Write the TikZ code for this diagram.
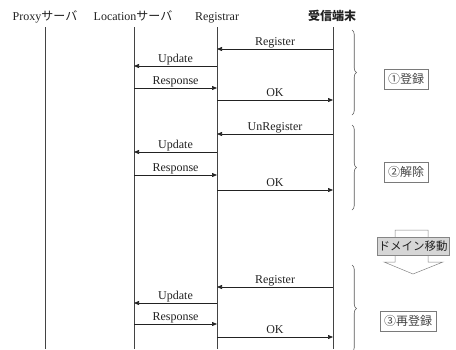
\documentclass[tikz,border=0pt]{standalone}
\usepackage{fontspec}
\setmainfont{Liberation Serif}
\newfontfamily\jp{Noto Sans CJK JP}
\usetikzlibrary{arrows.meta,decorations.pathreplacing}
\definecolor{ink}{HTML}{222222}
\definecolor{boxgray}{HTML}{D6D6D6}
\begin{document}
\begin{tikzpicture}[x=1pt,y=-1pt,
  hdr/.style={anchor=base,inner sep=0pt,text=ink,font=\fontsize{12}{14}\selectfont},
  life/.style={draw=ink!85,line width=0.8pt},
  msg/.style={draw=ink,line width=0.65pt,-{Triangle[length=5pt,width=4pt]}},
  lbl/.style={anchor=base,inner sep=0pt,yshift=3.5pt,text=ink,font=\fontsize{12}{14}\selectfont},
  brc/.style={draw=ink!75,line width=0.6pt,decorate,decoration={brace,amplitude=4.5pt}},
  tag/.style={draw=ink!60,line width=0.6pt,fill=white,text=ink!85,minimum height=20pt,inner xsep=4pt,font=\jp\fontsize{12}{13}\selectfont},
]
\useasboundingbox (0,0) rectangle (456,349);
% headers
\node[hdr] (hP) at (45,20) {Proxy{\jp サーバ}};
\node[hdr] (hL) at (133,20) {Location{\jp サーバ}};
\node[hdr] (hR) at (217,20) {Registrar};
\node[hdr] (hT) at (332,20) {\jp\bfseries 受信端末};
% lifelines
\coordinate (P) at (45,27);  \coordinate (Pb) at (45,349);
\coordinate (L) at (134,27); \coordinate (Lb) at (134,349);
\coordinate (R) at (217,27); \coordinate (Rb) at (217,349);
\coordinate (T) at (333,27); \coordinate (Tb) at (333,349);
\draw[life] (P) -- (Pb);
\draw[life] (L) -- (Lb);
\draw[life] (R) -- (Rb);
\draw[life] (T) -- (Tb);
% message rows
\foreach \n/\y in {1/49,2/66,3/88,4/100,5/134,6/152,7/175,8/190,9/287,10/303,11/324,12/337}
  \coordinate (y\n) at (0,\y);
% section 1
\draw[msg] (T |- y1) -- (R |- y1) node[midway,lbl] {Register};
\draw[msg] (R |- y2) -- (L |- y2) node[midway,lbl] {Update};
\draw[msg] (L |- y3) -- (R |- y3) node[midway,lbl] {Response};
\draw[msg] (R |- y4) -- (T |- y4) node[midway,lbl] {OK};
% section 2
\draw[msg] (T |- y5) -- (R |- y5) node[midway,lbl] {UnRegister};
\draw[msg] (R |- y6) -- (L |- y6) node[midway,lbl] {Update};
\draw[msg] (L |- y7) -- (R |- y7) node[midway,lbl] {Response};
\draw[msg] (R |- y8) -- (T |- y8) node[midway,lbl] {OK};
% section 3
\draw[msg] (T |- y9) -- (R |- y9) node[midway,lbl] {Register};
\draw[msg] (R |- y10) -- (L |- y10) node[midway,lbl] {Update};
\draw[msg] (L |- y11) -- (R |- y11) node[midway,lbl] {Response};
\draw[msg] (R |- y12) -- (T |- y12) node[midway,lbl] {OK};
% braces
\coordinate (b1t) at (352,30);  \coordinate (b1b) at (352,115);
\coordinate (b2t) at (352,125); \coordinate (b2b) at (352,210);
\coordinate (b3t) at (352,265); \coordinate (b3b) at (352,352);
\draw[brc] (b1t) -- (b1b);
\draw[brc] (b2t) -- (b2b);
\draw[brc] (b3t) -- (b3b);
% phase tags
\node[tag] (s1) at (406,79) {①登録};
\node[tag] (s2) at (406,172) {②解除};
\node[tag] (s3) at (408,321) {③再登録};
% domain move arrow
\draw[draw=ink!55,line width=0.5pt,fill=white]
  (395,230) -- (428,230) -- (428,262) -- (443,262) -- (413,274)
  -- (384,262) -- (395,262) -- cycle;
\node[draw=ink!55,line width=0.5pt,fill=boxgray,text=ink,inner xsep=1.5pt,minimum height=18pt,
  font=\jp\fontsize{11.5}{13}\selectfont] (dm) at (413,246) {ドメイン移動};
\end{tikzpicture}
\end{document}
